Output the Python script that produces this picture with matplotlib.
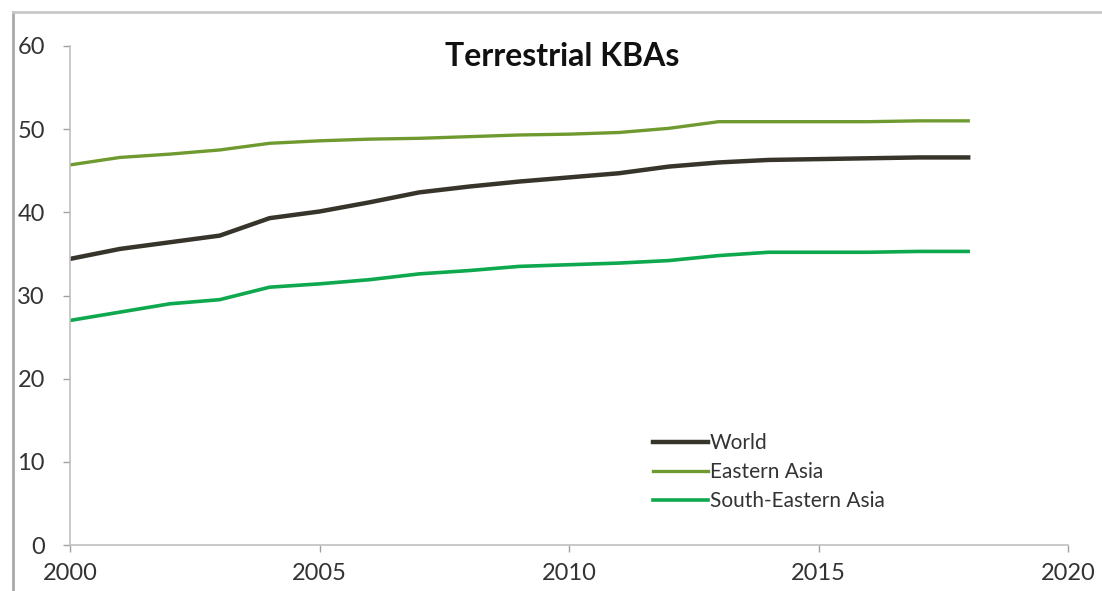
import matplotlib
matplotlib.use("Agg")
import matplotlib.pyplot as plt
from matplotlib.lines import Line2D

years = list(range(2000, 2019))
world = [34.4, 35.6, 36.4, 37.2, 39.3, 40.1, 41.2, 42.4, 43.1, 43.7, 44.2, 44.7, 45.5,
         46.0, 46.3, 46.4, 46.5, 46.6, 46.6]
eastern_asia = [45.7, 46.6, 47.0, 47.5, 48.3, 48.6, 48.8, 48.9, 49.1, 49.3, 49.4, 49.6,
                50.1, 50.9, 50.9, 50.9, 50.9, 51.0, 51.0]
se_asia = [27.0, 28.0, 29.0, 29.5, 31.0, 31.4, 31.9, 32.6, 33.0, 33.5, 33.7, 33.9, 34.2,
           34.8, 35.2, 35.2, 35.2, 35.3, 35.3]
series_names = ["World", "Eastern Asia", "South-Eastern Asia"]
x_ticks = [2000, 2005, 2010, 2015, 2020]
y_ticks = [0, 10, 20, 30, 40, 50, 60]
title = "Terrestrial KBAs"

plt.rcParams['font.family'] = ['Lato', 'DejaVu Sans']

fig = plt.figure(figsize=(11.02, 5.91), dpi=100)
ax = fig.add_axes([70/1102, 1-545/591, (1068-70)/1102, (545-46)/591])

ax.plot(years, world, color="#37352b", lw=3.2, label=series_names[0])
ax.plot(years, eastern_asia, color="#6f9a30", lw=2.4, label=series_names[1])
ax.plot(years, se_asia, color="#0ea84e", lw=2.6, label=series_names[2])

ax.set_xlim(2000, 2020)
ax.set_ylim(0, 60)
ax.set_xticks(x_ticks)
ax.set_yticks(y_ticks)
for s in ["top", "right"]:
    ax.spines[s].set_visible(False)
for s in ["left", "bottom"]:
    ax.spines[s].set_color("#c0c0c0")
    ax.spines[s].set_linewidth(1.2)
ax.tick_params(axis="both", colors="#a0a0a0", length=5, width=1)
ax.tick_params(axis="both", labelcolor="#333333", labelsize=17)
ax.tick_params(axis="y", pad=13)
ax.tick_params(axis="x", pad=8)

ax.text(0.493, 0.978, title, transform=ax.transAxes, ha="center", va="center",
        fontsize=23, fontweight="bold", color="#111111")

leg = ax.legend(loc="upper left", bbox_to_anchor=((645-70)/998, (545-425)/499),
                frameon=False, fontsize=15, handlelength=2.6, handletextpad=0.1,
                labelspacing=0.42, borderaxespad=0)
for t in leg.get_texts():
    t.set_color("#333333")

fig.add_artist(Line2D([13/1102, 13/1102], [0, 1-12/591], transform=fig.transFigure,
                      color="#a8a8a8", lw=2))
fig.add_artist(Line2D([13/1102, 1], [1-12/591, 1-12/591], transform=fig.transFigure,
                      color="#c8c8c8", lw=2))

fig.savefig("out.png", dpi=100)
